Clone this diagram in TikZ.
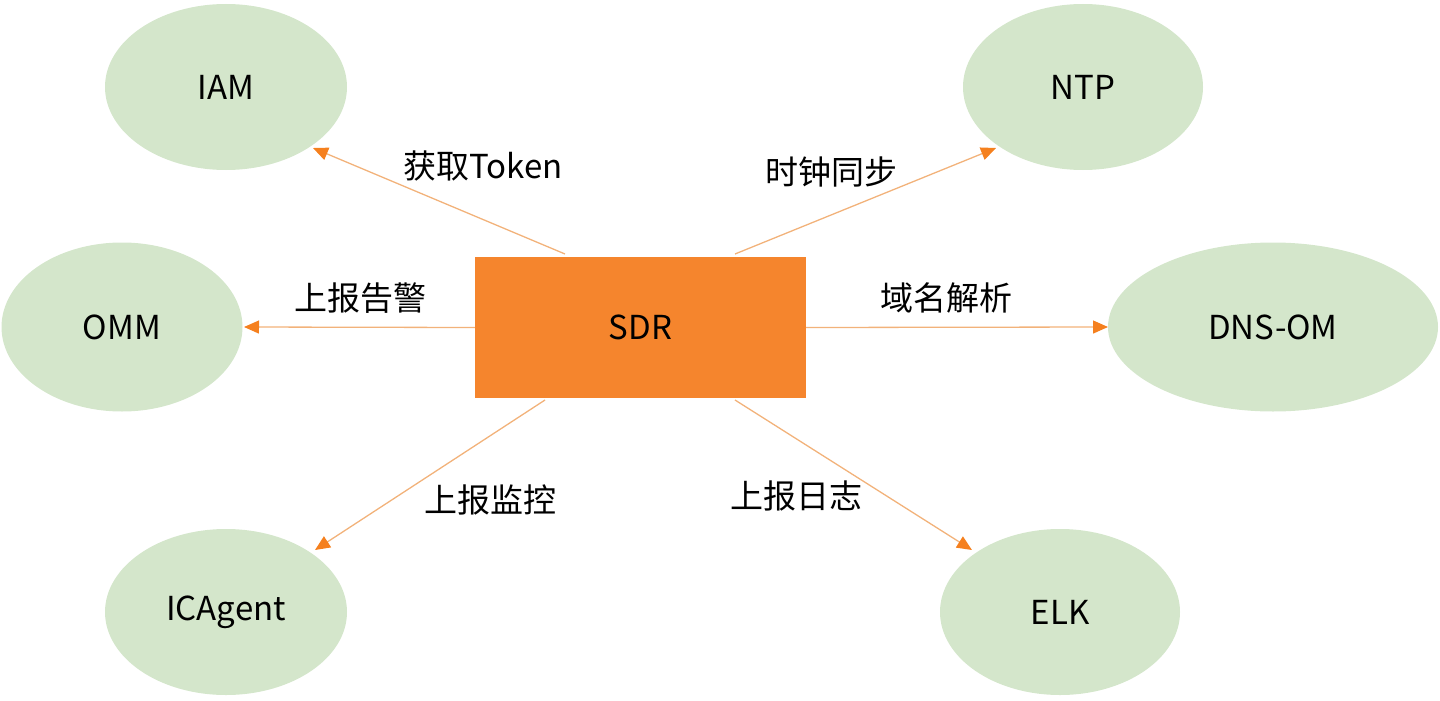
\documentclass[tikz,border=0pt]{standalone}
\usepackage{fontspec}
\setmainfont{Noto Sans CJK SC}
\usetikzlibrary{arrows.meta,shapes.geometric}
\definecolor{ellfill}{HTML}{D4E6CB}
\definecolor{boxfill}{HTML}{F5852D}
\definecolor{linec}{HTML}{F2B27A}
\definecolor{headc}{HTML}{F5801E}
\tikzset{
  svc/.style={ellipse, fill=ellfill, draw=none, inner sep=0pt, font=\fontsize{33}{38}\selectfont},
  core/.style={rectangle, fill=boxfill, draw=none, inner sep=0pt, font=\fontsize{33}{38}\selectfont},
  conn/.style={draw=linec, line width=1.3pt, -{Triangle[length=15pt,width=13pt,color=headc]}},
  lbl/.style={font=\fontsize{33}{38}\selectfont, inner sep=0pt}
}
\begin{document}
\begin{tikzpicture}[x=1pt,y=-1pt]
\useasboundingbox (0,0) rectangle (1440,701);
\node[svc, minimum width=242pt, minimum height=166pt] (iam) at (226,87) {IAM};
\node[svc, minimum width=240pt, minimum height=166pt] (ntp) at (1083,87) {NTP};
\node[svc, minimum width=241pt, minimum height=169pt] (omm) at (122,327) {OMM};
\node[svc, minimum width=330pt, minimum height=169pt] (dns) at (1273,327) {DNS-OM};
\node[svc, minimum width=242pt, minimum height=166pt] (ica) at (226,612) {ICAgent};
\node[svc, minimum width=240pt, minimum height=166pt] (elk) at (1060,612) {ELK};
\node[core, minimum width=331pt, minimum height=141pt] (sdr) at (640.5,327.5) {SDR};
\coordinate (s1) at (565,254);
\coordinate (e1) at (313,148);
\coordinate (s2) at (735,254);
\coordinate (e2) at (996,148);
\coordinate (e3) at (244,327);
\coordinate (e4) at (1108,327);
\coordinate (s5) at (545,400);
\coordinate (e5) at (315,550);
\coordinate (s6) at (735,400);
\coordinate (e6) at (972,550);
\draw[conn] (s1) -- (e1);
\draw[conn] (s2) -- (e2);
\draw[conn] (sdr.west) -- (e3);
\draw[conn] (sdr.east) -- (e4);
\draw[conn] (s5) -- (e5);
\draw[conn] (s6) -- (e6);
\node[lbl] (l1) at (483,166) {获取Token};
\node[lbl] (l2) at (831,172) {时钟同步};
\node[lbl] (l3) at (360,298) {上报告警};
\node[lbl] (l4) at (946,298) {域名解析};
\node[lbl] (l5) at (490,500) {上报监控};
\node[lbl] (l6) at (796,496) {上报日志};
\end{tikzpicture}
\end{document}
